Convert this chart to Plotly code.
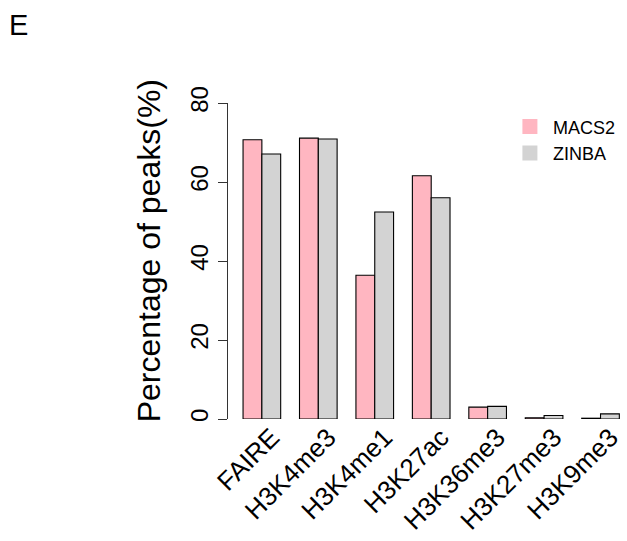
import plotly.graph_objects as go

# Share of called peaks per mark, by peak caller
marks = ["FAIRE", "H3K4me3", "H3K4me1", "H3K27ac", "H3K36me3", "H3K27me3", "H3K9me3"]
macs2 = [70.7, 71.1, 36.4, 61.6, 3.0, 0.3, 0.2]
zinba = [67.1, 70.9, 52.4, 56.0, 3.2, 0.9, 1.3]
series_names = ["MACS2", "ZINBA"]
series_colors = ["#FFB6C1", "#D3D3D3"]
y_ticks = [0, 20, 40, 60, 80]

FONT = "Liberation Sans, Arial, Helvetica, sans-serif"

fig = go.Figure()
for name, vals, col in zip(series_names, [macs2, zinba], series_colors):
    fig.add_trace(go.Bar(
        x=marks, y=vals, name=name, showlegend=False,
        marker=dict(color=col, line=dict(color="#000000", width=1.1)),
        cliponaxis=False,
    ))
    # legend swatch without outline
    fig.add_trace(go.Scatter(
        x=[None], y=[None], mode="markers", name=name,
        marker=dict(symbol="square", size=15, color=col, line=dict(width=0)),
    ))

W, H = 627, 541
ml, mr, mt, mb = 228.3, 0, 102.7, 122
pw = W - ml - mr
ph = H - mt - mb

def px_to_paper_x(px):
    return (px - ml) / pw

def px_to_paper_y(py):
    return (H - mb - py) / ph

fig.update_layout(
    width=W, height=H,
    margin=dict(l=ml, r=mr, t=mt, b=mb, pad=0),
    paper_bgcolor="white", plot_bgcolor="white",
    barmode="group", bargap=1/3, bargroupgap=0,
    font=dict(family=FONT, color="#000000"),
    showlegend=True,
    legend=dict(
        x=px_to_paper_x(507), y=px_to_paper_y(108), xanchor="left", yanchor="top",
        font=dict(size=18, family=FONT), bgcolor="rgba(0,0,0,0)",
        itemsizing="trace", tracegroupgap=0, itemwidth=36,
    ),
    xaxis=dict(
        type="category", range=[-0.6, 6.469],
        showline=False, showgrid=False, zeroline=False, ticks="",
        tickangle=-45, tickfont=dict(size=26, family=FONT),
        ticklabelshift=10, ticklabelstandoff=-3,
    ),
    yaxis=dict(
        range=[0, 80], tickvals=y_ticks, ticktext=[str(v) for v in y_ticks],
        showline=True, linecolor="#333333", linewidth=1,
        ticks="outside", ticklen=9, tickcolor="#333333", tickwidth=1,
        showgrid=False, zeroline=False,
        tickangle=-90, tickfont=dict(size=24, family=FONT),
    ),
)

fig.add_annotation(
    text="Percentage of peaks(%)", textangle=-90, showarrow=False,
    xref="paper", yref="paper",
    x=px_to_paper_x(149.5), y=px_to_paper_y(251),
    xanchor="center", yanchor="middle",
    font=dict(size=32, family=FONT),
)
fig.add_annotation(
    text="E", showarrow=False, xref="paper", yref="paper",
    x=px_to_paper_x(7.5), y=px_to_paper_y(24.5),
    xanchor="left", yanchor="middle",
    font=dict(size=29, family=FONT),
)

fig.write_html("out.html")
